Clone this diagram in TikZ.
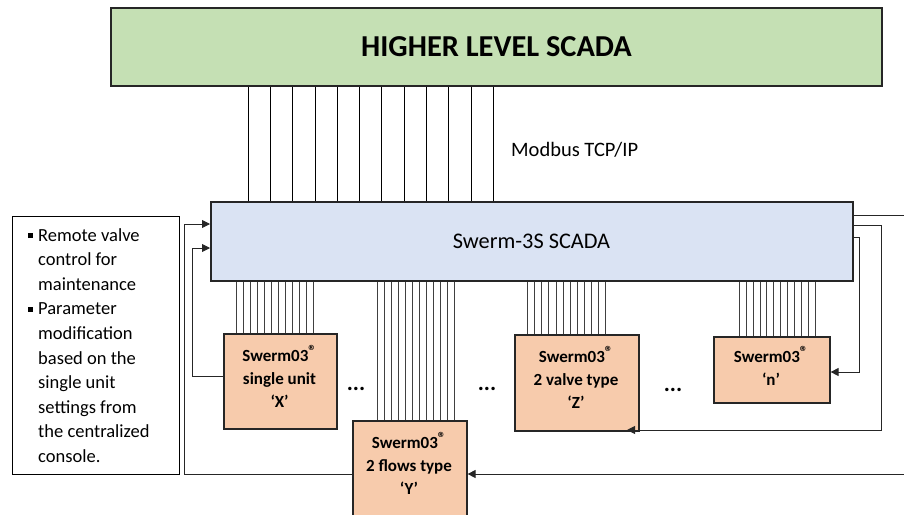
\documentclass[tikz,border=0pt]{standalone}
\usepackage{fontspec}
\setmainfont{Carlito}
\usetikzlibrary{arrows.meta,calc}
\definecolor{gfill}{HTML}{C5E0B4}
\definecolor{bfill}{HTML}{DAE3F3}
\definecolor{ofill}{HTML}{F7CBAC}
\definecolor{edge}{HTML}{262626}
\definecolor{wire}{HTML}{404040}
\newcommand{\regmark}{\raisebox{0.3em}{\fontsize{16}{16}\selectfont ®}}
\begin{document}
\begin{tikzpicture}[x=1pt,y=-1pt,
  boxstyle/.style={draw=edge,line width=1.6pt,inner sep=0pt,anchor=north west},
  unittext/.style={font=\bfseries\fontsize{17}{23}\selectfont,align=center,inner sep=0pt},
  bus/.style={draw=wire,line width=0.8pt},
  conn/.style={draw=edge,line width=0.9pt},
  arr/.style={conn,-{Triangle[length=8pt,width=8pt]}},
  dotstyle/.style={font=\bfseries\fontsize{23}{24}\selectfont,inner sep=0pt}]
\useasboundingbox (0,0) rectangle (904,514);
% main boxes
\node[boxstyle,fill=gfill,line width=2.2pt,minimum width=771pt,minimum height=78pt] (green) at (110,7) {};
\node[font=\bfseries\fontsize{30.4}{33}\selectfont,inner sep=0pt] (greent) at (496.5,47) {HIGHER LEVEL SCADA};
\node[boxstyle,fill=bfill,minimum width=642pt,minimum height=79pt] (blue) at (210,201) {};
\node[font=\fontsize{22.3}{25}\selectfont,inner sep=0pt] (bluet) at (531.5,241) {Swerm-3S SCADA};
\node[anchor=west,font=\fontsize{20.5}{24}\selectfont,inner sep=0pt] (modbus) at (511,150) {Modbus TCP/IP};
% unit boxes
\node[boxstyle,fill=ofill,minimum width=113pt,minimum height=95pt] (X) at (223,333) {};
\node[unittext] (Xt) at (279.5,376) {Swerm03\regmark\\single unit\\‘X’};
\node[boxstyle,fill=ofill,minimum width=114pt,minimum height=110pt] (Y) at (352,420) {};
\node[unittext] (Yt) at (409,463) {Swerm03\regmark\\2 flows type\\‘Y’};
\node[boxstyle,fill=ofill,minimum width=124pt,minimum height=96pt] (Z) at (514,334) {};
\node[unittext] (Zt) at (576,377) {Swerm03\regmark\\2 valve type\\‘Z’};
\node[boxstyle,fill=ofill,minimum width=116pt,minimum height=66pt] (N) at (713,336) {};
\node[unittext] (Nt) at (771,366) {Swerm03\regmark\\‘n’};
% dots
\node[dotstyle] (d1) at (356,389) {...};
\node[dotstyle] (d2) at (487,389) {...};
\node[dotstyle] (d3) at (673,390) {...};
% left text box
\node[draw=black,line width=0.8pt,inner sep=0pt,anchor=north west,minimum width=167pt,minimum height=258pt] (note) at (12,216) {};
\node[anchor=north west,align=left,inner sep=0pt,font=\fontsize{18.5}{24.6}\selectfont] (notet) at (38,228)
  {\llap{\rule[3pt]{5pt}{5pt}\hspace{5pt}}Remote valve\\control for\\maintenance\\
   \llap{\rule[3pt]{5pt}{5pt}\hspace{5pt}}Parameter\\modification\\based on the\\single unit\\settings from\\the centralized\\console.};
% bus lines between SCADA levels
\foreach \i in {0,...,11}{
  \draw[draw=black,line width=0.8pt] ([xshift={38+22.3*\i}]blue.north west) -- ([xshift={38+22.3*\i}]blue.north west |- green.south);
}
% bus lines to units
\foreach \i in {0,...,11}{
  \draw[bus] ([xshift={13+7*\i}]X.north west) -- ([xshift={13+7*\i}]X.north west |- blue.south);
  \draw[bus] ([xshift={25+7*\i}]Y.north west) -- ([xshift={25+7*\i}]Y.north west |- blue.south);
  \draw[bus] ([xshift={13.7+7.05*\i}]Z.north west) -- ([xshift={13.7+7.05*\i}]Z.north west |- blue.south);
  \draw[bus] ([xshift={26+6.97*\i}]N.north west) -- ([xshift={26+6.97*\i}]N.north west |- blue.south);
}
% left feedback connectors
\coordinate (L1) at (184,474);
\coordinate (L1t) at (184,224);
\draw[arr] (Y.west |- L1) -- (L1) -- (L1t) -- (blue.west |- L1t);
\coordinate (L2) at (192,376);
\coordinate (L2t) at (192,248);
\draw[arr] (X.west |- L2) -- (L2) -- (L2t) -- (blue.west |- L2t);
% right connectors
\coordinate (R1t) at (908,215);
\coordinate (R1b) at (908,474);
\draw[arr] (blue.east |- R1t) -- (R1t) -- (R1b) -- (Y.east |- R1b);
\coordinate (R2t) at (881,225);
\coordinate (R2b) at (881,430);
\coordinate (Zin) at (627,430);
\draw[arr] (blue.east |- R2t) -- (R2t) -- (R2b) -- (Zin);
\coordinate (R3t) at (859,237);
\coordinate (R3b) at (859,372);
\draw[arr] (blue.east |- R3t) -- (R3t) -- (R3b) -- (N.east |- R3b);
\end{tikzpicture}
\end{document}
